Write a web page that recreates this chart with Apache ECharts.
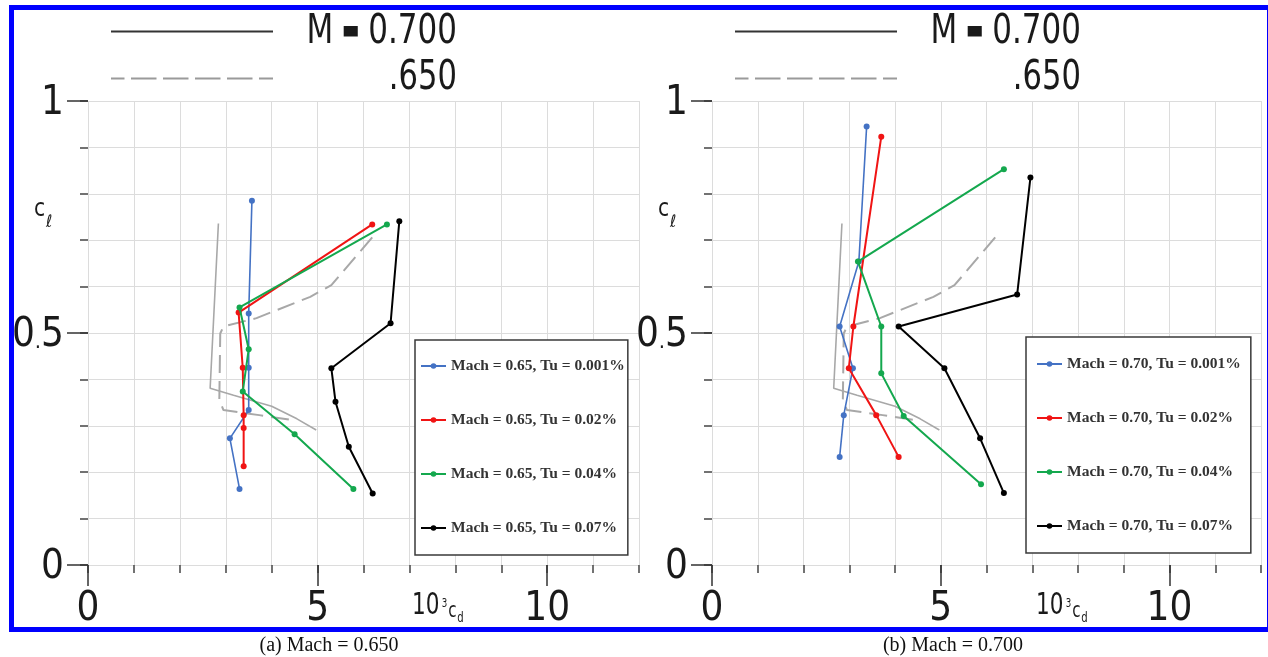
<!DOCTYPE html>
<html>
<head>
<meta charset="utf-8">
<title>Drag polars, Mach 0.650 and 0.700</title>
<script src="https://cdn.jsdelivr.net/npm/echarts@6/dist/echarts.min.js"></script>
<style>
  html, body { margin: 0; padding: 0; background: #ffffff; }
  #chart { width: 1268px; height: 657px; }
</style>
</head>
<body>
<div id="chart"></div>
<script>
// ---- data: [10^3 cd, cl] pairs ----
const names65 = [
  'Mach = 0.65, Tu = 0.001%',
  'Mach = 0.65, Tu = 0.02%',
  'Mach = 0.65, Tu = 0.04%',
  'Mach = 0.65, Tu = 0.07%'
];
const names70 = [
  'Mach = 0.70, Tu = 0.001%',
  'Mach = 0.70, Tu = 0.02%',
  'Mach = 0.70, Tu = 0.04%',
  'Mach = 0.70, Tu = 0.07%'
];

const m65Tu0001 = [[3.57, 0.785], [3.50, 0.542], [3.50, 0.425], [3.50, 0.334], [3.09, 0.273], [3.30, 0.164]];
const m65Tu002  = [[6.19, 0.734], [3.28, 0.544], [3.37, 0.425], [3.39, 0.323], [3.39, 0.295], [3.39, 0.213]];
const m65Tu004  = [[6.51, 0.734], [3.30, 0.555], [3.50, 0.465], [3.37, 0.374], [4.50, 0.282], [5.78, 0.164]];
const m65Tu007  = [[6.78, 0.741], [6.59, 0.521], [5.30, 0.424], [5.39, 0.352], [5.68, 0.255], [6.20, 0.154]];

const m70Tu0001 = [[3.38, 0.945], [3.21, 0.654], [2.79, 0.514], [3.08, 0.424], [2.88, 0.323], [2.79, 0.233]];
const m70Tu002  = [[3.70, 0.923], [3.09, 0.514], [2.99, 0.424], [3.59, 0.323], [4.08, 0.233]];
const m70Tu004  = [[6.38, 0.853], [3.19, 0.654], [3.70, 0.514], [3.70, 0.413], [4.19, 0.321], [5.88, 0.174]];
const m70Tu007  = [[6.96, 0.835], [6.67, 0.583], [4.08, 0.514], [5.08, 0.424], [5.86, 0.273], [6.38, 0.155]];

// reference polars drawn in grey on both panels
const refM700 = [[2.84, 0.736], [2.66, 0.381], [3.17, 0.366], [4.00, 0.342], [4.55, 0.315], [4.97, 0.291]];
const refM650 = [[6.19, 0.706], [5.30, 0.603], [4.84, 0.578], [3.67, 0.532], [2.95, 0.514], [2.88, 0.499],
                 [2.86, 0.356], [2.95, 0.334], [3.73, 0.323], [4.47, 0.312]];

const xTickLabels = [0, 5, 10];
const yTickLabels = [0, 0.5, 1];

const seriesColors = ['#4472c4', '#f01414', '#14a84e', '#000000'];

// ---- styling ----
const plotFont = "'Liberation Sans Narrow', 'DejaVu Sans Condensed', 'Liberation Sans', sans-serif";
const serifFont = "'Liberation Serif', 'Times New Roman', serif";
const gridColor = '#dcdcdc';
const tickColor = '#333333';
const inkColor = '#1a1a1a';

// tick label text; the decimal point is set smaller so the number stays compact
function tickText(v) {
  const s = Math.abs(v - Math.round(v)) < 1e-9 ? String(Math.round(v)) : String(v);
  return s.split('.').map(part => '{d|' + part + '}').join('{p|.}');
}
const tickRich = {
  d: { fontFamily: plotFont, fontSize: 40, lineHeight: 40, color: inkColor },
  p: { fontFamily: plotFont, fontSize: 22, lineHeight: 22, padding: [15, 0, 3, 0], color: inkColor }
};

// each panel uses two stacked grids of the same size: one carries the unit
// grid lines with short ticks, the other the labelled long ticks
function panelGrids(left, width) {
  return [
    { left, top: 101, width, height: 464 },
    { left, top: 101, width, height: 464 }
  ];
}

function minorX(gridIndex) {
  return {
    type: 'value', gridIndex, min: 0, max: 12, interval: 1,
    axisLine: { show: false },
    axisTick: { show: true, length: 8, lineStyle: { color: '#444', width: 1.5 } },
    axisLabel: { show: false },
    splitLine: { show: true, lineStyle: { color: gridColor, width: 1 } }
  };
}
function majorX(gridIndex) {
  return {
    type: 'value', gridIndex, min: 0, max: 12, interval: 1,
    axisLine: { show: false },
    axisTick: { show: true, length: 21, customValues: xTickLabels, lineStyle: { color: tickColor, width: 1.5 } },
    axisLabel: { show: true, customValues: xTickLabels, margin: 25, formatter: tickText, rich: tickRich },
    splitLine: { show: false }
  };
}
function minorY(gridIndex) {
  return {
    type: 'value', gridIndex, min: 0, max: 1, interval: 0.1,
    axisLine: { show: false },
    axisTick: { show: true, length: 8, lineStyle: { color: '#444', width: 1.5 } },
    axisLabel: { show: false },
    splitLine: { show: true, lineStyle: { color: gridColor, width: 1 } }
  };
}
function majorY(gridIndex) {
  return {
    type: 'value', gridIndex, min: 0, max: 1, interval: 0.1,
    axisLine: { show: false },
    axisTick: { show: true, length: 21, customValues: yTickLabels, lineStyle: { color: tickColor, width: 1.5 } },
    axisLabel: {
      show: true, customValues: yTickLabels, margin: 24, padding: [6, 0, 0, 0],
      formatter: tickText, rich: tickRich
    },
    splitLine: { show: false }
  };
}

function runSeries(names, sets, axisIndex) {
  return sets.map((d, i) => ({
    name: names[i], type: 'line', data: d,
    xAxisIndex: axisIndex, yAxisIndex: axisIndex,
    symbol: 'circle', symbolSize: 6,
    lineStyle: { width: i === 0 ? 1.6 : 2, color: seriesColors[i] },
    itemStyle: { color: seriesColors[i] },
    z: 5 + i
  }));
}

function refSeries(axisIndex) {
  return [
    { name: 'M = 0.700', type: 'line', data: refM700, xAxisIndex: axisIndex, yAxisIndex: axisIndex,
      symbol: 'none', silent: true, z: 3,
      lineStyle: { color: '#a8a8a8', width: 1.6 } },
    { name: '.650', type: 'line', data: refM650, xAxisIndex: axisIndex, yAxisIndex: axisIndex,
      symbol: 'none', silent: true, z: 3,
      lineStyle: { color: '#a8a8a8', width: 2, type: [18, 8] } }
  ];
}

function legendFor(names, left, top, padding) {
  return {
    data: names, orient: 'vertical', left, top, padding,
    itemWidth: 25, itemHeight: 7, itemGap: 38,
    selectedMode: false,
    borderColor: '#3a3a3a', borderWidth: 1.5, backgroundColor: '#ffffff',
    textStyle: { fontFamily: serifFont, fontWeight: 'bold', fontSize: 15.5, lineHeight: 16, color: '#333333' }
  };
}

// header key: line samples with their Mach labels
function headerKey(x0, x1, textRight) {
  return [
    { type: 'line', silent: true, shape: { x1: x0, y1: 31.5, x2: x1, y2: 31.5 },
      style: { stroke: '#333333', lineWidth: 2 } },
    { type: 'line', silent: true, shape: { x1: x0, y1: 78.5, x2: x1, y2: 78.5 },
      style: { stroke: '#9a9a9a', lineWidth: 2, lineDash: [25.5, 6.5], lineDashOffset: 12 } },
    { type: 'text', silent: true, x: textRight, y: 32, scaleX: 0.84,
      style: {
        text: '{m|M} {eq|=} {m|0.700}', align: 'right', verticalAlign: 'middle',
        fontFamily: plotFont, fontSize: 41, fill: inkColor,
        rich: {
          m: { fontFamily: plotFont, fontSize: 41, lineHeight: 44, verticalAlign: 'middle', fill: inkColor },
          eq: { fontFamily: 'DejaVu Sans', fontSize: 22, fontWeight: 'bold', lineHeight: 44, verticalAlign: 'middle',
                fill: inkColor, stroke: inkColor, lineWidth: 3 }
        }
      } },
    { type: 'text', silent: true, x: textRight, y: 78, scaleX: 0.83,
      style: { text: '.650', align: 'right', verticalAlign: 'middle', fontFamily: plotFont, fontSize: 41, fill: inkColor } }
  ];
}

// axis names: c_l on the cl axis, 10^3 c_d on the drag axis
function axisNames(axisX) {
  return [
    { type: 'text', silent: true, x: axisX - 54, y: 196.5, scaleX: 0.9,
      style: {
        text: '{c|c}{l|ℓ}', verticalAlign: 'top', fill: inkColor,
        rich: {
          c: { fontFamily: plotFont, fontSize: 25, lineHeight: 25, verticalAlign: 'top', fill: inkColor },
          l: { fontFamily: "'DejaVu Sans', sans-serif", fontSize: 17, lineHeight: 18, verticalAlign: 'top',
               padding: [18, 0, 0, 1], fill: inkColor }
        }
      } },
    { type: 'text', silent: true, x: axisX + 324, y: 591, scaleX: 0.8,
      style: {
        text: '{n|10}{s|3}{c|c}{d|d}', verticalAlign: 'top', fill: inkColor,
        rich: {
          n: { fontFamily: plotFont, fontSize: 30, lineHeight: 29, verticalAlign: 'top', fill: inkColor },
          s: { fontFamily: plotFont, fontSize: 12, lineHeight: 12, verticalAlign: 'top', padding: [7, 0, 0, 3], fill: inkColor },
          c: { fontFamily: plotFont, fontSize: 21, lineHeight: 20, verticalAlign: 'top', padding: [10, 0, 0, 1], fill: inkColor },
          d: { fontFamily: plotFont, fontSize: 14, lineHeight: 14, verticalAlign: 'top', padding: [20, 0, 0, 1], fill: inkColor }
        }
      } }
  ];
}

const chart = echarts.init(document.getElementById('chart'), null, { renderer: 'canvas' });

const option = {
  backgroundColor: '#ffffff',
  animation: false,
  grid: [...panelGrids(88, 551), ...panelGrids(712, 549)],
  xAxis: [minorX(0), majorX(1), minorX(2), majorX(3)],
  yAxis: [minorY(0), majorY(1), minorY(2), majorY(3)],
  legend: [
    legendFor(names65, 415, 340, [18, 3, 19, 5]),
    legendFor(names70, 1026, 337, [19, 10, 19, 10])
  ],
  series: [
    ...refSeries(0),
    ...runSeries(names65, [m65Tu0001, m65Tu002, m65Tu004, m65Tu007], 0),
    ...refSeries(2),
    ...runSeries(names70, [m70Tu0001, m70Tu002, m70Tu004, m70Tu007], 2)
  ],
  graphic: [
    { type: 'rect', silent: true, z: 100, shape: { x: 11.5, y: 7.5, width: 1258, height: 622 },
      style: { fill: 'none', stroke: '#0000ff', lineWidth: 5 } },
    ...headerKey(111, 273, 457),
    ...headerKey(735, 897, 1081),
    ...axisNames(88),
    ...axisNames(712),
    { type: 'text', silent: true, x: 329, y: 646,
      style: { text: '(a) Mach = 0.650', align: 'center', verticalAlign: 'middle', fontFamily: serifFont, fontSize: 20, fill: '#111111' } },
    { type: 'text', silent: true, x: 953, y: 646,
      style: { text: '(b) Mach = 0.700', align: 'center', verticalAlign: 'middle', fontFamily: serifFont, fontSize: 20, fill: '#111111' } }
  ]
};

chart.setOption(option);
</script>
</body>
</html>
